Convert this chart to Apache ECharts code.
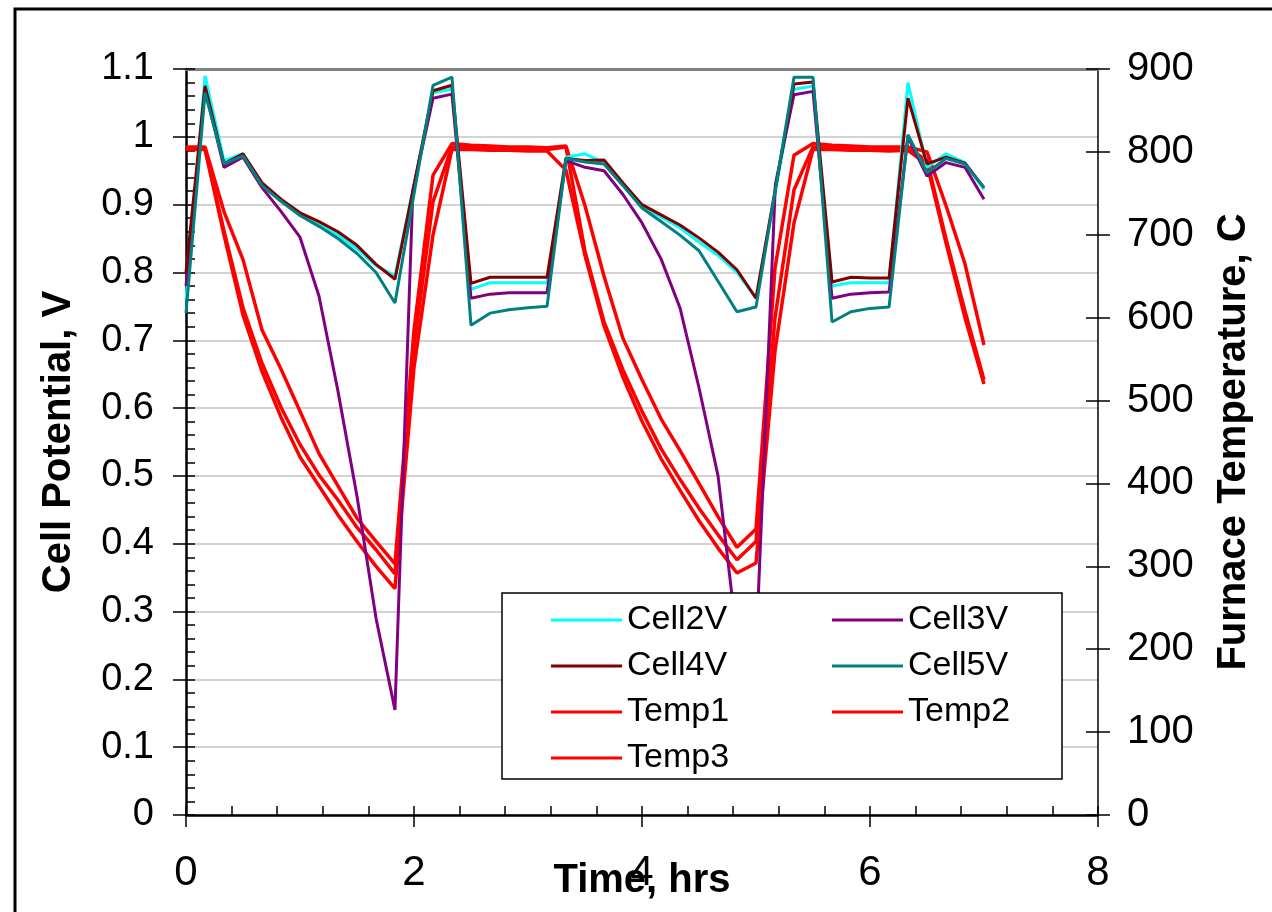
<!DOCTYPE html>
<html>
<head>
<meta charset="utf-8">
<title>Cell Potential and Furnace Temperature</title>
<script src="https://cdn.jsdelivr.net/npm/echarts@6/dist/echarts.min.js"></script>
<style>
  html, body { margin: 0; padding: 0; background: #ffffff; }
  #chart { width: 1272px; height: 912px; }
</style>
</head>
<body>
<div id="chart"></div>
<script>
// Cell voltages (V) against time (hrs)
const cell2V = [
  [0, 0.76], [0.167, 1.09], [0.333, 0.965], [0.5, 0.975], [0.667, 0.93], [0.833, 0.905],
  [1.0, 0.885], [1.167, 0.87], [1.333, 0.855], [1.5, 0.835], [1.667, 0.81], [1.833, 0.795],
  [2.167, 1.065], [2.333, 1.07], [2.5, 0.775], [2.667, 0.785], [2.833, 0.785], [3.0, 0.785],
  [3.167, 0.785], [3.333, 0.97], [3.5, 0.975], [3.667, 0.962], [3.833, 0.93], [4.0, 0.898],
  [4.167, 0.882], [4.333, 0.866], [4.5, 0.845], [4.667, 0.825], [4.833, 0.80], [5.0, 0.762],
  [5.333, 1.07], [5.5, 1.075], [5.667, 0.78], [5.833, 0.785], [6.0, 0.785], [6.167, 0.785],
  [6.333, 1.08], [6.5, 0.955], [6.667, 0.975], [6.833, 0.962], [7.0, 0.922]
];
const cell3V = [
  [0, 0.78], [0.167, 1.07], [0.333, 0.955], [0.5, 0.97], [0.667, 0.925], [0.833, 0.89],
  [1.0, 0.852], [1.167, 0.765], [1.333, 0.625], [1.5, 0.47], [1.667, 0.29], [1.833, 0.155],
  [1.99, 0.92], [2.167, 1.057], [2.333, 1.063], [2.5, 0.762], [2.667, 0.768], [2.833, 0.77],
  [3.0, 0.77], [3.167, 0.77], [3.333, 0.965], [3.5, 0.955], [3.667, 0.95], [3.833, 0.915],
  [4.0, 0.873], [4.167, 0.82], [4.333, 0.748], [4.5, 0.63], [4.667, 0.50], [4.833, 0.26],
  [4.97, 0.12], [5.17, 0.93], [5.333, 1.062], [5.5, 1.067], [5.667, 0.762], [5.833, 0.768],
  [6.0, 0.77], [6.167, 0.771], [6.333, 1.0], [6.5, 0.942], [6.667, 0.962], [6.833, 0.955],
  [7.0, 0.908]
];
const cell4V = [
  [0, 0.80], [0.167, 1.075], [0.333, 0.96], [0.5, 0.975], [0.667, 0.932], [0.833, 0.908],
  [1.0, 0.888], [1.167, 0.875], [1.333, 0.86], [1.5, 0.84], [1.667, 0.812], [1.833, 0.79],
  [2.167, 1.068], [2.333, 1.076], [2.5, 0.784], [2.667, 0.793], [2.833, 0.793], [3.0, 0.793],
  [3.167, 0.793], [3.333, 0.968], [3.5, 0.965], [3.667, 0.966], [3.833, 0.932], [4.0, 0.90],
  [4.167, 0.885], [4.333, 0.87], [4.5, 0.851], [4.667, 0.83], [4.833, 0.804], [5.0, 0.762],
  [5.333, 1.078], [5.5, 1.081], [5.667, 0.786], [5.833, 0.793], [6.0, 0.792], [6.167, 0.792],
  [6.333, 1.057], [6.5, 0.96], [6.667, 0.97], [6.833, 0.961], [7.0, 0.925]
];
const cell5V = [
  [0, 0.74], [0.167, 1.065], [0.333, 0.96], [0.5, 0.972], [0.667, 0.928], [0.833, 0.905],
  [1.0, 0.884], [1.167, 0.868], [1.333, 0.85], [1.5, 0.828], [1.667, 0.80], [1.833, 0.755],
  [2.167, 1.076], [2.333, 1.088], [2.5, 0.722], [2.667, 0.74], [2.833, 0.745], [3.0, 0.748],
  [3.167, 0.75], [3.333, 0.968], [3.5, 0.963], [3.667, 0.96], [3.833, 0.928], [4.0, 0.895],
  [4.167, 0.875], [4.333, 0.855], [4.5, 0.832], [4.667, 0.787], [4.833, 0.742], [5.0, 0.749],
  [5.333, 1.088], [5.5, 1.088], [5.667, 0.727], [5.833, 0.742], [6.0, 0.747], [6.167, 0.749],
  [6.333, 1.003], [6.5, 0.947], [6.667, 0.968], [6.833, 0.96], [7.0, 0.925]
];

// Furnace thermocouples (deg C) against time (hrs)
const temp1 = [
  [0, 806], [0.167, 806], [0.333, 728], [0.5, 670], [0.667, 585], [0.833, 538],
  [1.0, 487], [1.167, 436], [1.333, 397], [1.5, 358], [1.667, 330], [1.833, 303],
  [2.0, 585], [2.167, 772], [2.333, 810], [2.5, 808], [2.667, 807], [2.833, 806],
  [3.0, 806], [3.167, 805], [3.333, 807], [3.5, 735], [3.667, 650], [3.833, 575],
  [4.0, 525], [4.167, 478], [4.333, 440], [4.5, 400], [4.667, 360], [4.833, 323],
  [5.0, 345], [5.167, 660], [5.333, 796], [5.5, 810], [5.667, 808], [5.833, 807],
  [6.0, 806], [6.167, 806], [6.333, 806], [6.5, 800], [6.667, 735], [6.833, 665], [7.0, 567]
];
const temp2 = [
  [0, 804], [0.167, 804], [0.333, 705], [0.5, 612], [0.667, 545], [0.833, 492],
  [1.0, 447], [1.167, 410], [1.333, 380], [1.5, 347], [1.667, 320], [1.833, 291],
  [2.0, 565], [2.167, 740], [2.333, 806], [2.5, 805], [2.667, 805], [2.833, 804],
  [3.0, 803], [3.167, 803], [3.333, 806], [3.5, 680], [3.667, 595], [3.833, 537],
  [4.0, 487], [4.167, 442], [4.333, 405], [4.5, 370], [4.667, 338], [4.833, 308],
  [5.0, 330], [5.167, 600], [5.333, 754], [5.5, 806], [5.667, 805], [5.833, 805],
  [6.0, 804], [6.167, 803], [6.333, 804], [6.5, 790], [6.667, 695], [6.833, 608], [7.0, 525]
];
const temp3 = [
  [0, 803], [0.167, 803], [0.333, 700], [0.5, 603], [0.667, 535], [0.833, 480],
  [1.0, 432], [1.167, 397], [1.333, 362], [1.5, 330], [1.667, 300], [1.833, 273],
  [2.0, 540], [2.167, 700], [2.333, 803], [2.5, 803], [2.667, 802], [2.833, 802],
  [3.0, 801], [3.167, 801], [3.333, 778], [3.5, 675], [3.667, 590], [3.833, 528],
  [4.0, 475], [4.167, 430], [4.333, 392], [4.5, 355], [4.667, 322], [4.833, 292],
  [5.0, 304], [5.167, 560], [5.333, 714], [5.5, 803], [5.667, 803], [5.833, 802],
  [6.0, 802], [6.167, 801], [6.333, 802], [6.5, 785], [6.667, 690], [6.833, 600], [7.0, 520]
];

// Legend columns
const legendLeft = ['Cell2V', 'Cell4V', 'Temp1', 'Temp3'];
const legendRight = ['Cell3V', 'Cell5V', 'Temp2'];

const FONT = "'Liberation Sans', Arial, Helvetica, sans-serif";
const BLACK = '#000000';

function lineSeries(name, data, color, width, yAxisIndex) {
  return {
    name: name,
    type: 'line',
    xAxisIndex: 0,
    yAxisIndex: yAxisIndex,
    data: data,
    symbol: 'none',
    showSymbol: false,
    smooth: false,
    lineStyle: { color: color, width: width },
    itemStyle: { color: color },
    emphasis: { disabled: true },
    z: 2
  };
}

function tickOnlyAxis(extra) {
  return Object.assign({
    type: 'value',
    axisLine: { show: false, onZero: false },
    axisLabel: { show: false },
    splitLine: { show: false }
  }, extra);
}

const legendCommon = {
  orient: 'vertical',
  top: 603,
  icon: 'rect',
  itemWidth: 71,
  itemHeight: 3,
  itemGap: 12,
  padding: 0,
  selectedMode: false,
  textStyle: { fontSize: 34, color: BLACK, fontFamily: FONT },
  z: 5
};

const nameStyle = { fontSize: 40, fontWeight: 'bold', color: BLACK, fontFamily: FONT };

const option = {
  animation: false,
  backgroundColor: '#ffffff',
  grid: { left: 186, right: 174, top: 69, bottom: 97, outerBoundsMode: 'none', containLabel: false },
  xAxis: [
    {
      type: 'value', min: 0, max: 8, interval: 2, position: 'bottom',
      axisLine: { onZero: false, lineStyle: { color: BLACK, width: 2.5 } },
      axisTick: { length: 12, lineStyle: { color: BLACK, width: 1.5 } },
      axisLabel: { fontSize: 42, color: BLACK, fontFamily: FONT, margin: 37, showMinLabel: true, showMaxLabel: true },
      splitLine: { show: false },
      name: 'Time, hrs', nameLocation: 'middle', nameGap: 46, nameMoveOverlap: false,
      nameTextStyle: nameStyle
    },
    {
      type: 'value', min: 0, max: 8, position: 'top',
      axisLine: { onZero: false, lineStyle: { color: '#808080', width: 3 } },
      axisTick: { show: false }, axisLabel: { show: false }, splitLine: { show: false }
    },
    tickOnlyAxis({
      min: 0, max: 8, interval: 0.4, position: 'bottom',
      axisTick: { inside: true, length: 9, lineStyle: { color: BLACK, width: 1.5 } }
    })
  ],
  yAxis: [
    {
      type: 'value', min: 0, max: 1.1, interval: 0.1, position: 'left',
      axisLine: { onZero: false, lineStyle: { color: BLACK, width: 2.5 } },
      axisTick: { length: 13, lineStyle: { color: BLACK, width: 1.5 } },
      axisLabel: { fontSize: 38, color: BLACK, fontFamily: FONT, margin: 32, showMinLabel: true, showMaxLabel: true },
      splitLine: { show: true, lineStyle: { color: '#c4c4c4', width: 1.5 } },
      name: 'Cell Potential, V', nameLocation: 'middle', nameGap: 107, nameMoveOverlap: false,
      nameTextStyle: nameStyle
    },
    {
      type: 'value', min: 0, max: 900, interval: 100, position: 'right',
      axisLine: { onZero: false, lineStyle: { color: BLACK, width: 1.5 } },
      axisTick: { length: 12, lineStyle: { color: BLACK, width: 1.5 } },
      axisLabel: { fontSize: 40, color: BLACK, fontFamily: FONT, margin: 29, showMinLabel: true, showMaxLabel: true },
      splitLine: { show: false },
      name: 'Furnace Temperature, C', nameLocation: 'middle', nameGap: 116, nameMoveOverlap: false,
      nameTextStyle: nameStyle
    },
    tickOnlyAxis({
      min: 0, max: 1.1, interval: 0.02, position: 'left',
      axisTick: { inside: true, length: 9, lineStyle: { color: BLACK, width: 1.5 } }
    }),
    tickOnlyAxis({
      min: 0, max: 900, interval: 100, position: 'right',
      axisTick: { inside: true, length: 12, lineStyle: { color: BLACK, width: 1.5 } }
    })
  ],
  legend: [
    Object.assign({ left: 551, data: legendLeft }, legendCommon),
    Object.assign({ left: 832, data: legendRight }, legendCommon)
  ],
  graphic: [
    {
      type: 'rect', z: 3,
      shape: { x: 502, y: 593, width: 560, height: 186 },
      style: { fill: '#ffffff', stroke: BLACK, lineWidth: 1.5 }
    },
    {
      type: 'rect', z: 10, silent: true,
      shape: { x: 15, y: 9, width: 1300, height: 960 },
      style: { fill: 'none', stroke: BLACK, lineWidth: 3 }
    }
  ],
  series: [
    lineSeries('Temp3', temp3, '#ff0000', 3.5, 1),
    lineSeries('Temp2', temp2, '#ff0000', 3.5, 1),
    lineSeries('Temp1', temp1, '#ff0000', 3.5, 1),
    lineSeries('Cell2V', cell2V, '#00ffff', 3, 0),
    lineSeries('Cell3V', cell3V, '#800080', 3, 0),
    lineSeries('Cell4V', cell4V, '#800000', 3, 0),
    lineSeries('Cell5V', cell5V, '#008080', 3, 0)
  ]
};

const chart = echarts.init(document.getElementById('chart'), null, { renderer: 'canvas' });
chart.setOption(option);
</script>
</body>
</html>
